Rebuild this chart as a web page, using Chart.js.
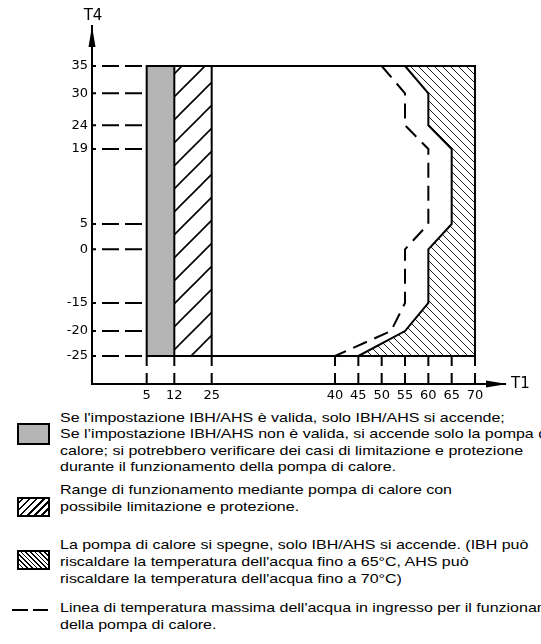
<!DOCTYPE html>
<html>
<head>
<meta charset="utf-8">
<script src="https://cdn.jsdelivr.net/npm/chart.js@4.4.1/dist/chart.umd.min.js"></script>
<style>
  html, body { margin: 0; padding: 0; background: #fff; }
  body { width: 541px; height: 644px; position: relative; overflow: hidden;
         font-family: "Liberation Sans", Arial, sans-serif; color: #000; }
  #chart { position: absolute; left: 0; top: 0; }
  .txt { position: absolute; left: 60px; font-size: 13px; line-height: 16.6px;
         white-space: nowrap; transform: scaleX(1.23); transform-origin: 0 0; }
  .sw { position: absolute; left: 17px; width: 33px; box-sizing: border-box; border: 2px solid #000; }
  .dash { position: absolute; top: 609px; height: 2px; background: #000; }
</style>
</head>
<body>
<canvas id="chart" width="541" height="410"></canvas>

<div class="sw" style="top:423px;height:22px;background:#b4b4b4"></div>
<div class="txt" style="top:409.7px">Se l'impostazione IBH/AHS è valida, solo IBH/AHS si accende;<br>Se l’impostazione IBH/AHS non è valida, si accende solo la pompa di<br>calore; si potrebbero verificare dei casi di limitazione e protezione<br>durante il funzionamento della pompa di calore.</div>

<div class="sw" style="top:497px;height:20px;background:repeating-linear-gradient(-45deg,#fff 0 3.4px,#000 3.4px 5px)"></div>
<div class="txt" style="top:482.2px">Range di funzionamento mediante pompa di calore con<br>possibile limitazione e protezione.</div>

<div class="sw" style="top:550px;height:20px;background:repeating-linear-gradient(45deg,#fff 0 2.2px,#000 2.2px 3.3px)"></div>
<div class="txt" style="top:537.4px;line-height:16.9px">La pompa di calore si spegne, solo IBH/AHS si accende. (IBH può<br>riscaldare la temperatura dell'acqua fino a 65°C, AHS può<br>riscaldare la temperatura dell'acqua fino a 70°C)</div>

<div class="dash" style="left:12px;width:16px"></div>
<div class="dash" style="left:33px;width:15px"></div>
<div class="txt" style="top:600.4px">Linea di temperatura massima dell'acqua in ingresso per il funzionamento<br>della pompa di calore.</div>

<script>
"use strict";

// axis ticks (the drawing uses a schematic, non-uniform scale)
const T1_TICKS = [5, 12, 25, 40, 45, 50, 55, 60, 65, 70];
const T4_TICKS = [-25, -20, -15, 0, 5, 19, 24, 30, 35];

// operating bands on T1
const IBH_T1   = [5, 12];     // grey: IBH/AHS
const LIMIT_T1 = [12, 25];    // "/" hatch: heat pump with limitation
const T4_SPAN  = [-25, 35];
const T1_END   = 70;

// curves, listed top (T4 = 35) to bottom (T4 = -25)
const CURVE_T4 = [35, 30, 24, 19, 5, 0, -15, -20, -25];
const HP_OFF_T1 = [55, 60, 60, 65, 65, 60, 60, 55, 45];   // solid: heat pump off beyond
const INLET_T1  = [50, 55, 55, 60, 60, 55, 55, 52, 40];   // dashed: max inlet water temp

const C = { ink: "#000", grey: "#b4b4b4" };

// Linear scale with piecewise breakpoints, so the schematic spacing of the
// original drawing is kept while data stay in real degrees.
class WarpScale extends Chart.LinearScale {
  static id = "warp";
  buildTicks() {
    return this.options.tickValues.map((value) => ({ value }));
  }
  toFrac(v) {
    const b = this.options.breaks;
    if (v <= b[0][0]) return b[0][1];
    for (let i = 1; i < b.length; i++) {
      if (v <= b[i][0]) {
        const [v0, f0] = b[i - 1];
        const [v1, f1] = b[i];
        return f0 + (v - v0) / (v1 - v0) * (f1 - f0);
      }
    }
    return b[b.length - 1][1];
  }
  getPixelForValue(v) {
    const f = this.toFrac(v);
    return this.isHorizontal() ? this.left + f * this.width : this.bottom - f * this.height;
  }
  getValueForPixel(p) {
    const f = this.isHorizontal() ? (p - this.left) / this.width : (this.bottom - p) / this.height;
    const b = this.options.breaks;
    for (let i = 1; i < b.length; i++) {
      if (f <= b[i][1]) {
        const [v0, f0] = b[i - 1];
        const [v1, f1] = b[i];
        return v0 + (f - f0) / (f1 - f0) * (v1 - v0);
      }
    }
    return b[b.length - 1][0];
  }
}
Chart.register(WarpScale);

function rect(x0, x1, y0, y1) {
  return [{ x: x0, y: y0 }, { x: x0, y: y1 }, { x: x1, y: y1 }, { x: x1, y: y0 }, { x: x0, y: y0 }];
}
function curve(xs) {
  return xs.map((x, i) => ({ x, y: CURVE_T4[i] }));
}

function hatch(size, slash, width, color, shift) {
  const c = document.createElement("canvas");
  c.width = c.height = size;
  const g = c.getContext("2d");
  g.strokeStyle = color;
  g.lineWidth = width;
  g.beginPath();
  if (slash) {
    g.moveTo(-1, size + 1); g.lineTo(size + 1, -1);
    g.moveTo(-1, 1); g.lineTo(1, -1);
    g.moveTo(size - 1, size + 1); g.lineTo(size + 1, size - 1);
  } else {
    g.moveTo(-1, -1); g.lineTo(size + 1, size + 1);
    g.moveTo(size - 1, -1); g.lineTo(size + 1, 1);
    g.moveTo(-1, size - 1); g.lineTo(1, size + 1);
  }
  g.stroke();
  const p = g.createPattern(c, "repeat");
  if (shift) p.setTransform(new DOMMatrix([1, 0, 0, 1, shift, 0]));
  return p;
}

const offZone = curve(HP_OFF_T1).concat([
  { x: T1_END, y: T4_SPAN[0] }, { x: T1_END, y: T4_SPAN[1] }, { x: HP_OFF_T1[0], y: CURVE_T4[0] },
]);

const base = { showLine: true, pointRadius: 0, borderColor: C.ink, borderWidth: 2, fill: false };

const datasets = [
  { ...base, label: "frame", data: rect(IBH_T1[0], T1_END, T4_SPAN[0], T4_SPAN[1]), order: 1 },
  { ...base, label: "12", data: rect(LIMIT_T1[0], LIMIT_T1[0], T4_SPAN[0], T4_SPAN[1]).slice(0, 2), order: 1 },
  { ...base, label: "25", data: rect(LIMIT_T1[1], LIMIT_T1[1], T4_SPAN[0], T4_SPAN[1]).slice(0, 2), order: 1 },
  { ...base, label: "heat pump off", data: curve(HP_OFF_T1), order: 1 },
  { ...base, label: "max inlet", data: curve(INLET_T1), borderDash: [15, 8], order: 1 },
  { ...base, label: "grey", data: rect(IBH_T1[0], IBH_T1[1], T4_SPAN[0], T4_SPAN[1]),
    borderWidth: 0, fill: "shape", backgroundColor: C.grey, order: 5 },
  { ...base, label: "limit", data: rect(LIMIT_T1[0], LIMIT_T1[1], T4_SPAN[0], T4_SPAN[1]),
    borderWidth: 0, fill: "shape", backgroundColor: hatch(23, true, 1.6, C.ink, 18), order: 5 },
  { ...base, label: "off", data: offZone,
    borderWidth: 0, fill: "shape", backgroundColor: hatch(8, false, 1, "#222", 0), order: 5 },
];

// dashed guides from the axes to the diagram, axis arrows and axis names
const guides = {
  id: "guides",
  afterDatasetsDraw(chart) {
    const { ctx, scales: { x, y } } = chart;
    ctx.save();
    ctx.strokeStyle = C.ink;
    ctx.lineWidth = 2;
    ctx.setLineDash([4, 6, 17, 6, 17, 6]);
    T4_TICKS.forEach((v) => {
      const py = y.getPixelForValue(v);
      ctx.beginPath();
      ctx.moveTo(x.left, py);
      ctx.lineTo(x.getPixelForValue(IBH_T1[0]), py);
      ctx.stroke();
    });
    ctx.setLineDash([10, 7]);
    T1_TICKS.forEach((v) => {
      const px = x.getPixelForValue(v);
      ctx.beginPath();
      ctx.moveTo(px, y.getPixelForValue(T4_SPAN[0]));
      ctx.lineTo(px, y.bottom);
      ctx.stroke();
    });
    ctx.setLineDash([]);

    ctx.fillStyle = C.ink;
    ctx.beginPath();
    ctx.moveTo(x.left, y.top);
    ctx.lineTo(x.left - 3.5, y.top + 21);
    ctx.lineTo(x.left + 3.5, y.top + 21);
    ctx.closePath();
    ctx.fill();
    ctx.beginPath();
    ctx.moveTo(x.right + 2, y.bottom);
    ctx.lineTo(x.right - 19, y.bottom - 3.5);
    ctx.lineTo(x.right - 19, y.bottom + 3.5);
    ctx.closePath();
    ctx.fill();

    ctx.font = "15px 'DejaVu Sans'";
    ctx.textBaseline = "middle";
    ctx.textAlign = "center";
    ctx.fillText("T4", x.left + 1, 16);
    ctx.textAlign = "left";
    ctx.fillText("T1", x.right + 6, y.bottom);
    ctx.restore();
  },
};

const tickFont = { family: "'DejaVu Sans'", size: 13 };

new Chart(document.getElementById("chart"), {
  type: "scatter",
  data: { datasets },
  options: {
    responsive: false,
    animation: false,
    events: [],
    layout: { padding: { top: 26, right: 36, left: 0, bottom: 0 } },
    plugins: { legend: { display: false }, tooltip: { enabled: false } },
    scales: {
      x: {
        type: "warp",
        min: 0,
        max: 76.4,
        breaks: [[0, 0], [5, 0.1324], [12, 0.1993], [25, 0.2898], [40, 0.5884], [70, 0.9274], [76.4, 1]],
        tickValues: T1_TICKS,
        grid: { display: false, drawTicks: false },
        border: { color: C.ink, width: 2 },
        ticks: { autoSkip: false, maxRotation: 0, padding: 4, color: C.ink, font: tickFont,
                 callback: (v) => String(v) },
        afterFit: (s) => { s.height = 26; },
      },
      y: {
        type: "warp",
        min: -31,
        max: 42,
        breaks: [[-31, 0], [-25, 0.0782], [-20, 0.148], [-15, 0.2263], [0, 0.3763], [5, 0.4469],
                 [19, 0.6564], [24, 0.7226], [30, 0.812], [35, 0.8883], [42, 1]],
        tickValues: T4_TICKS,
        grid: { display: false, drawTicks: false },
        border: { color: C.ink, width: 2 },
        ticks: { autoSkip: false, padding: 4, color: C.ink, font: tickFont,
                 callback: (v) => String(v) },
        afterFit: (s) => { s.width = 92; },
      },
    },
  },
  plugins: [guides],
});
</script>
</body>
</html>
